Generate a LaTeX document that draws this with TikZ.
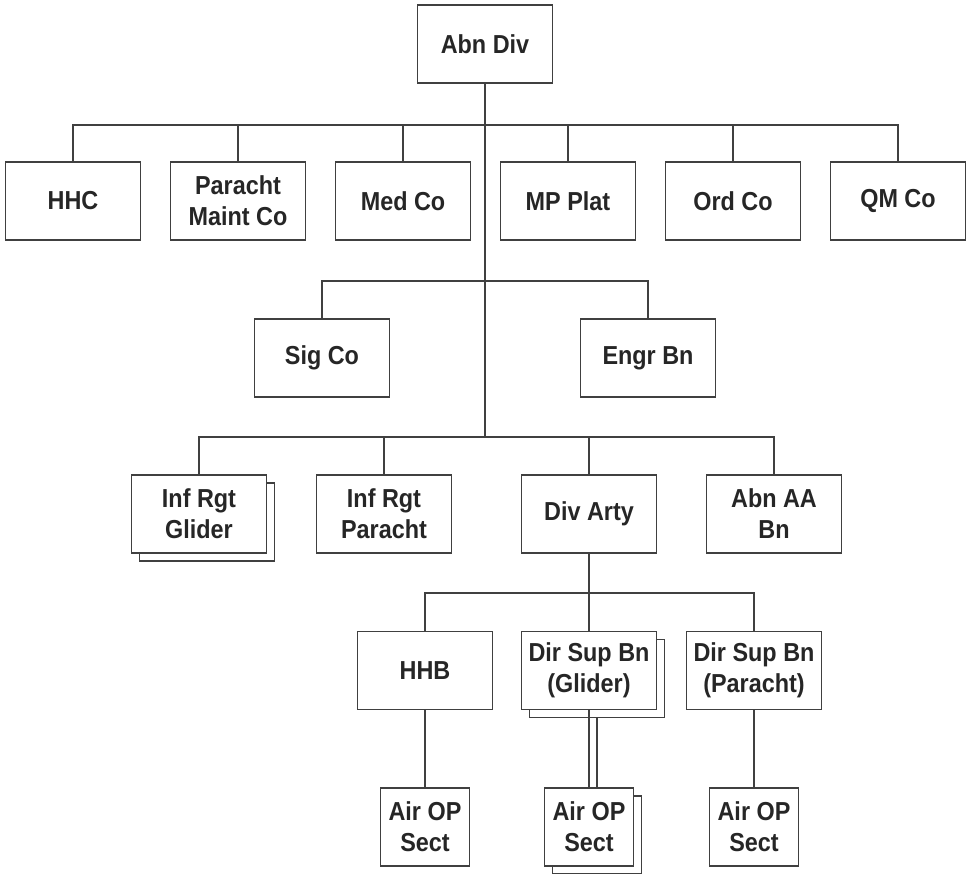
\documentclass[tikz,border=0pt]{standalone}
\usepackage{fontspec}
\setmainfont[FakeStretch=0.9]{Liberation Sans}
\tikzset{
  unite/.style={draw=black!75, line width=1.3pt, fill=white,
    minimum width=135pt, minimum height=78pt, inner sep=0pt,
    align=center, text=black!85, font=\bfseries\fontsize{26}{31}\selectfont},
  petite/.style={unite, minimum width=89pt},
  lien/.style={draw=black!75, line width=1.3pt},
}
\begin{document}
\begin{tikzpicture}[x=1pt,y=-1pt]
    \useasboundingbox (0,0) rectangle (966,873);

    % Division
    \node[unite] (abndiv) at (485,44) {Abn Div};

    % Premier rang
    \node[unite] (hhc)   at (73,201)  {HHC};
    \node[unite] (maint) at (238,201) {Paracht\\Maint Co};
    \node[unite] (med)   at (403,201) {Med Co};
    \node[unite] (mp)    at (568,201) {MP Plat};
    \node[unite] (ord)   at (733,201) {Ord Co};
    \node[unite] (qm)    at (898,201) {QM Co};

    % Deuxième rang
    \node[unite] (sig)  at (322,358) {Sig Co};
    \node[unite] (engr) at (648,358) {Engr Bn};

    % Troisième rang (unité doublée derrière)
    \node[unite] (infgs) at (207,522) {};
    \node[unite] (infg)  at (199,514) {Inf Rgt\\Glider};
    \node[unite] (infp)  at (384,514) {Inf Rgt\\Paracht};
    \node[unite] (arty)  at (589,514) {Div Arty};
    \node[unite] (aa)    at (774,514) {Abn AA\\Bn};

    % Artillerie divisionnaire
    \node[unite] (hhb)  at (425,670.5) {HHB};
    \node[unite] (dsgs) at (597,678.5) {};
    \node[unite] (dsg)  at (589,670.5) {Dir Sup Bn\\(Glider)};
    \node[unite] (dsp)  at (754,670.5) {Dir Sup Bn\\(Paracht)};

    % Sections d'observation
    \node[petite] (air1)  at (425,827) {Air OP\\Sect};
    \node[petite] (air2s) at (597,835) {};
    \node[petite] (air2)  at (589,827) {Air OP\\Sect};
    \node[petite] (air3)  at (754,827) {Air OP\\Sect};

    % Barres horizontales
    \coordinate (b1) at (485,125);
    \coordinate (b2) at (485,281);
    \coordinate (b3) at (485,437);
    \coordinate (b4) at (589,593);

    % Liaisons
    \draw[lien] (abndiv) -- (b3);
    \foreach \n in {hhc,maint,med,mp,ord,qm}
        \draw[lien] (\n) |- (b1);
    \foreach \n in {sig,engr}
        \draw[lien] (\n) |- (b2);
    \foreach \n in {infg,infp,arty,aa}
        \draw[lien] (\n) |- (b3);
    \draw[lien] (arty) -- (b4);
    \foreach \n in {hhb,dsg,dsp}
        \draw[lien] (\n) |- (b4);
    \draw[lien] (hhb) -- (air1);
    \draw[lien] (dsg) -- (air2);
    \draw[lien] (dsgs.south) -- (dsgs.south |- air2.north);
    \draw[lien] (dsp) -- (air3);
\end{tikzpicture}
\end{document}
